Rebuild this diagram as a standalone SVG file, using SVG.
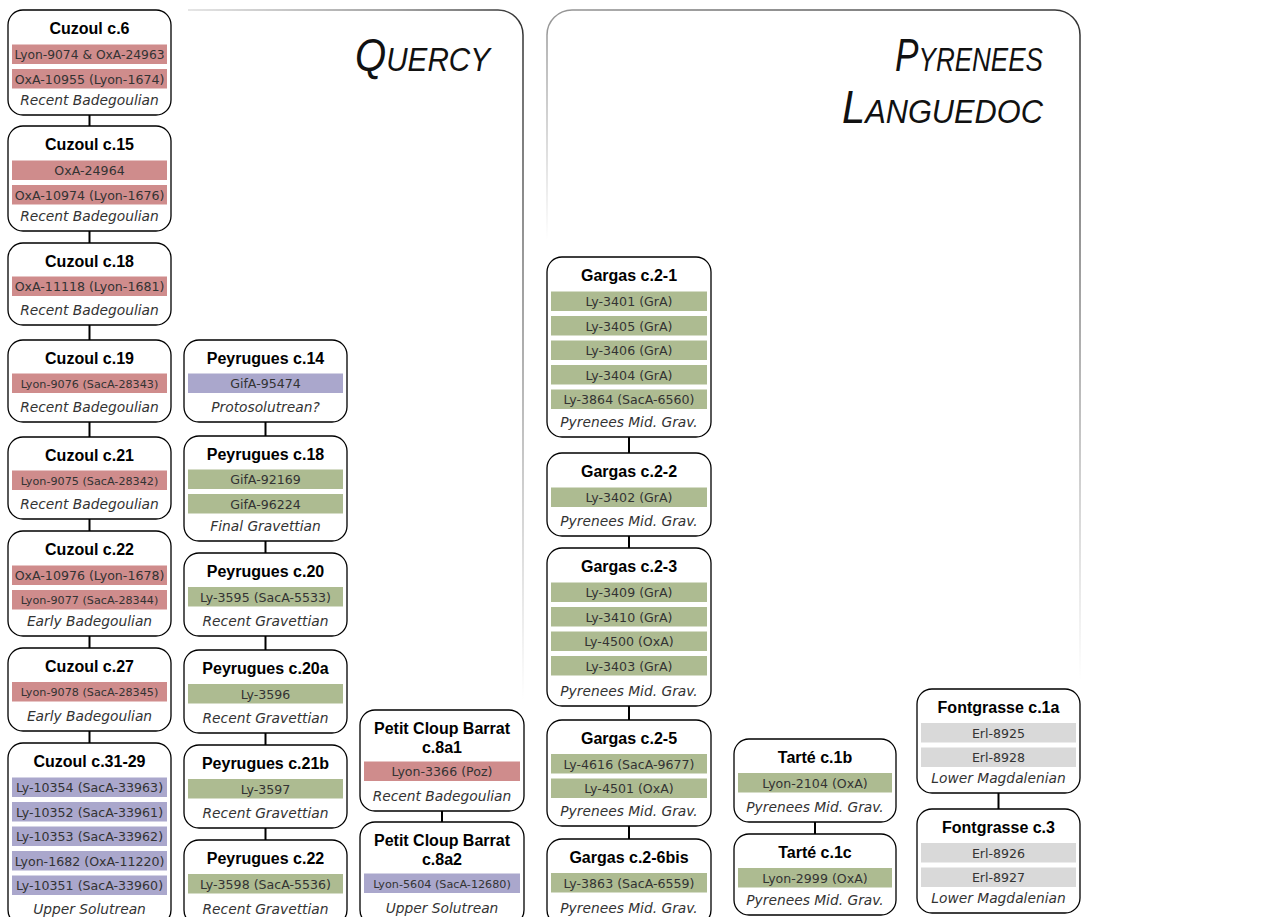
<svg xmlns="http://www.w3.org/2000/svg" width="1282" height="917" viewBox="0 0 1282 917">
<defs>
<style>
.box{fill:#fff;stroke:#000;stroke-width:1.3}
.ti{font-family:"Liberation Sans",Arial,sans-serif;font-weight:bold;font-size:16px;fill:#000;text-anchor:middle}
.dt{font-family:"DejaVu Sans",sans-serif;font-size:12.6px;fill:#333;text-anchor:middle}
.sm{font-size:11.2px}
.cu{font-family:"DejaVu Sans",sans-serif;font-style:italic;font-size:13.8px;fill:#333;text-anchor:middle}
.red{fill:#CF8C8C}
.pur{fill:#AAA7CC}
.grn{fill:#ADBB91}
.gry{fill:#D9D9D9}
.reg{font-family:"Liberation Sans",Arial,sans-serif;font-style:italic;fill:#111;font-size:34px}
.big{font-size:46px}
.con line{stroke:#000;stroke-width:2}
</style>
<linearGradient id="qTop" gradientUnits="userSpaceOnUse" x1="188" y1="0" x2="523" y2="0">
<stop offset="0" stop-color="#dddddd"/><stop offset="0.6" stop-color="#888"/><stop offset="1" stop-color="#333"/>
</linearGradient>
<linearGradient id="qRight" gradientUnits="userSpaceOnUse" x1="0" y1="35" x2="0" y2="700">
<stop offset="0" stop-color="#333"/><stop offset="0.5" stop-color="#999"/><stop offset="1" stop-color="#fff"/>
</linearGradient>
<linearGradient id="pTop" gradientUnits="userSpaceOnUse" x1="547" y1="0" x2="1080" y2="0">
<stop offset="0" stop-color="#999"/><stop offset="1" stop-color="#333"/>
</linearGradient>
<linearGradient id="pLeft" gradientUnits="userSpaceOnUse" x1="0" y1="30" x2="0" y2="240">
<stop offset="0" stop-color="#999"/><stop offset="1" stop-color="#fff"/>
</linearGradient>
<linearGradient id="pRight" gradientUnits="userSpaceOnUse" x1="0" y1="35" x2="0" y2="680">
<stop offset="0" stop-color="#333"/><stop offset="0.5" stop-color="#999"/><stop offset="1" stop-color="#fff"/>
</linearGradient>
</defs>
<rect width="1282" height="917" fill="#fff"/>

<g id="region-quercy">
<path d="M188,10 H498 A25,25 0 0 1 523,35" fill="none" stroke="url(#qTop)" stroke-width="1.5"/>
<path d="M523,35 V700" fill="none" stroke="url(#qRight)" stroke-width="1.5"/>
<text class="reg" x="355" y="71" textLength="135" lengthAdjust="spacingAndGlyphs"><tspan class="big">Q</tspan>UERCY</text>
</g>
<g id="region-pyrenees">
<path d="M547,35 A25,25 0 0 1 572,10 H1055 A25,25 0 0 1 1080,35" fill="none" stroke="url(#pTop)" stroke-width="1.5"/>
<path d="M547,35 V240" fill="none" stroke="url(#pLeft)" stroke-width="1.5"/>
<path d="M1080,35 V680" fill="none" stroke="url(#pRight)" stroke-width="1.5"/>
<text class="reg" x="895" y="71" textLength="148" lengthAdjust="spacingAndGlyphs"><tspan class="big">P</tspan>YRENEES</text>
<text class="reg" x="842" y="123" textLength="201" lengthAdjust="spacingAndGlyphs"><tspan class="big">L</tspan>ANGUEDOC</text>
</g>

<g id="connectors" class="con">
<line x1="89.5" y1="115" x2="89.5" y2="126"/>
<line x1="89.5" y1="231" x2="89.5" y2="243"/>
<line x1="89.5" y1="325" x2="89.5" y2="340"/>
<line x1="89.5" y1="422" x2="89.5" y2="437"/>
<line x1="89.5" y1="519" x2="89.5" y2="531"/>
<line x1="89.5" y1="636" x2="89.5" y2="648"/>
<line x1="89.5" y1="731" x2="89.5" y2="743"/>
<line x1="265.5" y1="422" x2="265.5" y2="436"/>
<line x1="265.5" y1="541" x2="265.5" y2="553"/>
<line x1="265.5" y1="636" x2="265.5" y2="650"/>
<line x1="265.5" y1="733" x2="265.5" y2="745"/>
<line x1="265.5" y1="828" x2="265.5" y2="840"/>
<line x1="442" y1="811" x2="442" y2="822"/>
<line x1="629" y1="437" x2="629" y2="453"/>
<line x1="629" y1="536" x2="629" y2="548"/>
<line x1="629" y1="706" x2="629" y2="720"/>
<line x1="629" y1="826" x2="629" y2="839"/>
<line x1="815" y1="822" x2="815" y2="834"/>
<line x1="998.5" y1="793" x2="998.5" y2="809"/>
</g>

<!-- Column 1: Cuzoul -->
<g id="cuzoul-c6">
<rect class="box" x="8" y="10" width="163" height="105" rx="15"/>
<text class="ti" x="89.5" y="33.5">Cuzoul c.6</text>
<rect class="red" x="12" y="44.5" width="155" height="19.5"/>
<text class="dt" x="89.5" y="59" style="font-size:12.3px">Lyon-9074 &amp; OxA-24963</text>
<rect class="red" x="12" y="69" width="155" height="19.5"/>
<text class="dt" x="89.5" y="83.5">OxA-10955 (Lyon-1674)</text>
<text class="cu" x="89.5" y="104.5">Recent Badegoulian</text>
</g>
<g id="cuzoul-c15">
<rect class="box" x="8" y="126" width="163" height="105" rx="15"/>
<text class="ti" x="89.5" y="149.5">Cuzoul c.15</text>
<rect class="red" x="12" y="160.5" width="155" height="19.5"/>
<text class="dt" x="89.5" y="175">OxA-24964</text>
<rect class="red" x="12" y="185" width="155" height="19.5"/>
<text class="dt" x="89.5" y="199.5">OxA-10974 (Lyon-1676)</text>
<text class="cu" x="89.5" y="220.5">Recent Badegoulian</text>
</g>
<g id="cuzoul-c18">
<rect class="box" x="8" y="243" width="163" height="82" rx="15"/>
<text class="ti" x="89.5" y="266.5">Cuzoul c.18</text>
<rect class="red" x="12" y="276.5" width="155" height="19.5"/>
<text class="dt" x="89.5" y="291">OxA-11118 (Lyon-1681)</text>
<text class="cu" x="89.5" y="314.5">Recent Badegoulian</text>
</g>
<g id="cuzoul-c19">
<rect class="box" x="8" y="340" width="163" height="82" rx="15"/>
<text class="ti" x="89.5" y="363.5">Cuzoul c.19</text>
<rect class="red" x="12" y="373.5" width="155" height="19.5"/>
<text class="dt sm" x="89.5" y="387.5">Lyon-9076 (SacA-28343)</text>
<text class="cu" x="89.5" y="411.5">Recent Badegoulian</text>
</g>
<g id="cuzoul-c21">
<rect class="box" x="8" y="437" width="163" height="82" rx="15"/>
<text class="ti" x="89.5" y="460.5">Cuzoul c.21</text>
<rect class="red" x="12" y="470.5" width="155" height="19.5"/>
<text class="dt sm" x="89.5" y="484.5">Lyon-9075 (SacA-28342)</text>
<text class="cu" x="89.5" y="508.5">Recent Badegoulian</text>
</g>
<g id="cuzoul-c22">
<rect class="box" x="8" y="531" width="163" height="105" rx="15"/>
<text class="ti" x="89.5" y="554.5">Cuzoul c.22</text>
<rect class="red" x="12" y="565.5" width="155" height="19.5"/>
<text class="dt" x="89.5" y="580">OxA-10976 (Lyon-1678)</text>
<rect class="red" x="12" y="590" width="155" height="19.5"/>
<text class="dt sm" x="89.5" y="604">Lyon-9077 (SacA-28344)</text>
<text class="cu" x="89.5" y="625.5">Early Badegoulian</text>
</g>
<g id="cuzoul-c27">
<rect class="box" x="8" y="648" width="163" height="83" rx="15"/>
<text class="ti" x="89.5" y="671.5">Cuzoul c.27</text>
<rect class="red" x="12" y="682" width="155" height="19.5"/>
<text class="dt sm" x="89.5" y="696">Lyon-9078 (SacA-28345)</text>
<text class="cu" x="89.5" y="720.5">Early Badegoulian</text>
</g>
<g id="cuzoul-c31-29">
<rect class="box" x="8" y="743" width="163" height="182" rx="15"/>
<text class="ti" x="89.5" y="766.5">Cuzoul c.31-29</text>
<rect class="pur" x="12" y="777.5" width="155" height="19.5"/>
<text class="dt" x="89.5" y="792">Ly-10354 (SacA-33963)</text>
<rect class="pur" x="12" y="802" width="155" height="19.5"/>
<text class="dt" x="89.5" y="816.5">Ly-10352 (SacA-33961)</text>
<rect class="pur" x="12" y="826.5" width="155" height="19.5"/>
<text class="dt" x="89.5" y="841">Ly-10353 (SacA-33962)</text>
<rect class="pur" x="12" y="851" width="155" height="19.5"/>
<text class="dt" x="89.5" y="865.5">Lyon-1682 (OxA-11220)</text>
<rect class="pur" x="12" y="875.5" width="155" height="19.5"/>
<text class="dt" x="89.5" y="890">Ly-10351 (SacA-33960)</text>
<text class="cu" x="89.5" y="913.5">Upper Solutrean</text>
</g>

<!-- Column 2: Peyrugues -->
<g id="peyrugues-c14">
<rect class="box" x="184" y="340" width="163" height="82" rx="15"/>
<text class="ti" x="265.5" y="363.5">Peyrugues c.14</text>
<rect class="pur" x="188" y="373.5" width="155" height="19.5"/>
<text class="dt" x="265.5" y="388">GifA-95474</text>
<text class="cu" x="265.5" y="411.5">Protosolutrean?</text>
</g>
<g id="peyrugues-c18">
<rect class="box" x="184" y="436" width="163" height="105" rx="15"/>
<text class="ti" x="265.5" y="459.5">Peyrugues c.18</text>
<rect class="grn" x="188" y="469.5" width="155" height="19.5"/>
<text class="dt" x="265.5" y="484">GifA-92169</text>
<rect class="grn" x="188" y="494" width="155" height="19.5"/>
<text class="dt" x="265.5" y="508.5">GifA-96224</text>
<text class="cu" x="265.5" y="530.5">Final Gravettian</text>
</g>
<g id="peyrugues-c20">
<rect class="box" x="184" y="553" width="163" height="83" rx="15"/>
<text class="ti" x="265.5" y="576.5">Peyrugues c.20</text>
<rect class="grn" x="188" y="587" width="155" height="19.5"/>
<text class="dt" x="265.5" y="601.5">Ly-3595 (SacA-5533)</text>
<text class="cu" x="265.5" y="625.5">Recent Gravettian</text>
</g>
<g id="peyrugues-c20a">
<rect class="box" x="184" y="650" width="163" height="83" rx="15"/>
<text class="ti" x="265.5" y="673.5">Peyrugues c.20a</text>
<rect class="grn" x="188" y="684" width="155" height="19.5"/>
<text class="dt" x="265.5" y="698.5">Ly-3596</text>
<text class="cu" x="265.5" y="722.5">Recent Gravettian</text>
</g>
<g id="peyrugues-c21b">
<rect class="box" x="184" y="745" width="163" height="83" rx="15"/>
<text class="ti" x="265.5" y="768.5">Peyrugues c.21b</text>
<rect class="grn" x="188" y="779" width="155" height="19.5"/>
<text class="dt" x="265.5" y="793.5">Ly-3597</text>
<text class="cu" x="265.5" y="817.5">Recent Gravettian</text>
</g>
<g id="peyrugues-c22">
<rect class="box" x="184" y="840" width="163" height="85" rx="15"/>
<text class="ti" x="265.5" y="863.5">Peyrugues c.22</text>
<rect class="grn" x="188" y="874" width="155" height="19.5"/>
<text class="dt" x="265.5" y="888.5">Ly-3598 (SacA-5536)</text>
<text class="cu" x="265.5" y="913.5">Recent Gravettian</text>
</g>

<!-- Column 3: Petit Cloup Barrat -->
<g id="pcb-c8a1">
<rect class="box" x="360" y="710" width="164" height="101" rx="15"/>
<text class="ti" x="442" y="733.5">Petit Cloup Barrat</text>
<text class="ti" x="442" y="752.5">c.8a1</text>
<rect class="red" x="364" y="761.5" width="156" height="19.5"/>
<text class="dt" x="442" y="776">Lyon-3366 (Poz)</text>
<text class="cu" x="442" y="801">Recent Badegoulian</text>
</g>
<g id="pcb-c8a2">
<rect class="box" x="360" y="822" width="164" height="103" rx="15"/>
<text class="ti" x="442" y="845.5">Petit Cloup Barrat</text>
<text class="ti" x="442" y="864.5">c.8a2</text>
<rect class="pur" x="364" y="873.5" width="156" height="19.5"/>
<text class="dt sm" x="442" y="887.5">Lyon-5604 (SacA-12680)</text>
<text class="cu" x="442" y="913">Upper Solutrean</text>
</g>

<!-- Column 4: Gargas -->
<g id="gargas-c2-1">
<rect class="box" x="547" y="257" width="164" height="180" rx="15"/>
<text class="ti" x="629" y="280.5">Gargas c.2-1</text>
<rect class="grn" x="551" y="291.5" width="156" height="19.5"/>
<text class="dt" x="629" y="306">Ly-3401 (GrA)</text>
<rect class="grn" x="551" y="316" width="156" height="19.5"/>
<text class="dt" x="629" y="330.5">Ly-3405 (GrA)</text>
<rect class="grn" x="551" y="340.5" width="156" height="19.5"/>
<text class="dt" x="629" y="355">Ly-3406 (GrA)</text>
<rect class="grn" x="551" y="365" width="156" height="19.5"/>
<text class="dt" x="629" y="379.5">Ly-3404 (GrA)</text>
<rect class="grn" x="551" y="389.5" width="156" height="19.5"/>
<text class="dt" x="629" y="404">Ly-3864 (SacA-6560)</text>
<text class="cu" x="629" y="427">Pyrenees Mid. Grav.</text>
</g>
<g id="gargas-c2-2">
<rect class="box" x="547" y="453" width="164" height="83" rx="15"/>
<text class="ti" x="629" y="476.5">Gargas c.2-2</text>
<rect class="grn" x="551" y="487.5" width="156" height="19.5"/>
<text class="dt" x="629" y="502">Ly-3402 (GrA)</text>
<text class="cu" x="629" y="526">Pyrenees Mid. Grav.</text>
</g>
<g id="gargas-c2-3">
<rect class="box" x="547" y="548" width="164" height="158" rx="15"/>
<text class="ti" x="629" y="571.5">Gargas c.2-3</text>
<rect class="grn" x="551" y="582.5" width="156" height="19.5"/>
<text class="dt" x="629" y="597">Ly-3409 (GrA)</text>
<rect class="grn" x="551" y="607" width="156" height="19.5"/>
<text class="dt" x="629" y="621.5">Ly-3410 (GrA)</text>
<rect class="grn" x="551" y="631.5" width="156" height="19.5"/>
<text class="dt" x="629" y="646">Ly-4500 (OxA)</text>
<rect class="grn" x="551" y="656" width="156" height="19.5"/>
<text class="dt" x="629" y="670.5">Ly-3403 (GrA)</text>
<text class="cu" x="629" y="696">Pyrenees Mid. Grav.</text>
</g>
<g id="gargas-c2-5">
<rect class="box" x="547" y="720" width="164" height="106" rx="15"/>
<text class="ti" x="629" y="743.5">Gargas c.2-5</text>
<rect class="grn" x="551" y="754" width="156" height="19.5"/>
<text class="dt" x="629" y="768.5">Ly-4616 (SacA-9677)</text>
<rect class="grn" x="551" y="778.5" width="156" height="19.5"/>
<text class="dt" x="629" y="793">Ly-4501 (OxA)</text>
<text class="cu" x="629" y="815.5">Pyrenees Mid. Grav.</text>
</g>
<g id="gargas-c2-6bis">
<rect class="box" x="547" y="839" width="164" height="86" rx="15"/>
<text class="ti" x="629" y="862.5">Gargas c.2-6bis</text>
<rect class="grn" x="551" y="873" width="156" height="19.5"/>
<text class="dt" x="629" y="887.5">Ly-3863 (SacA-6559)</text>
<text class="cu" x="629" y="913">Pyrenees Mid. Grav.</text>
</g>

<!-- Column 5: Tarte -->
<g id="tarte-c1b">
<rect class="box" x="734" y="739" width="162" height="83" rx="15"/>
<text class="ti" x="815" y="762.5">Tarté c.1b</text>
<rect class="grn" x="738" y="773" width="154" height="19.5"/>
<text class="dt" x="815" y="787.5">Lyon-2104 (OxA)</text>
<text class="cu" x="815" y="811.5">Pyrenees Mid. Grav.</text>
</g>
<g id="tarte-c1c">
<rect class="box" x="734" y="834" width="162" height="81" rx="15"/>
<text class="ti" x="815" y="857.5">Tarté c.1c</text>
<rect class="grn" x="738" y="868" width="154" height="19.5"/>
<text class="dt" x="815" y="882.5">Lyon-2999 (OxA)</text>
<text class="cu" x="815" y="905">Pyrenees Mid. Grav.</text>
</g>

<!-- Column 6: Fontgrasse -->
<g id="fontgrasse-c1a">
<rect class="box" x="917" y="689" width="163" height="104" rx="15"/>
<text class="ti" x="998.5" y="712.5">Fontgrasse c.1a</text>
<rect class="gry" x="921" y="723" width="155" height="19.5"/>
<text class="dt" x="998.5" y="737.5">Erl-8925</text>
<rect class="gry" x="921" y="747.5" width="155" height="19.5"/>
<text class="dt" x="998.5" y="762">Erl-8928</text>
<text class="cu" x="998.5" y="783">Lower Magdalenian</text>
</g>
<g id="fontgrasse-c3">
<rect class="box" x="917" y="809" width="163" height="104" rx="15"/>
<text class="ti" x="998.5" y="832.5">Fontgrasse c.3</text>
<rect class="gry" x="921" y="843" width="155" height="19.5"/>
<text class="dt" x="998.5" y="857.5">Erl-8926</text>
<rect class="gry" x="921" y="867.5" width="155" height="19.5"/>
<text class="dt" x="998.5" y="882">Erl-8927</text>
<text class="cu" x="998.5" y="903">Lower Magdalenian</text>
</g>
</svg>
